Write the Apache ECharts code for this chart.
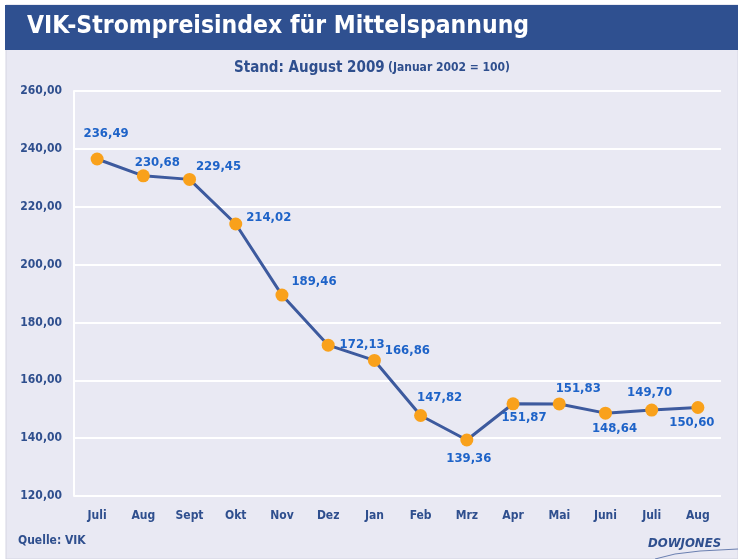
<!DOCTYPE html>
<html>
<head>
<meta charset="utf-8">
<script src="https://cdn.jsdelivr.net/npm/echarts@6/dist/echarts.min.js"></script>
<style>
  html, body { margin: 0; padding: 0; background: #fff; }
  #chart { width: 738px; height: 559px; }
</style>
</head>
<body>
<div id="chart"></div>
<script>
const months = ['Juli', 'Aug', 'Sept', 'Okt', 'Nov', 'Dez', 'Jan', 'Feb', 'Mrz', 'Apr', 'Mai', 'Juni', 'Juli', 'Aug'];
const values = [236.49, 230.68, 229.45, 214.02, 189.46, 172.13, 166.86, 147.82, 139.36, 151.87, 151.83, 148.64, 149.70, 150.60];
// where each value label sits relative to its point
const labelOffsets = [[9, -25], [14, -13], [29, -13], [33, -6], [32, -13], [34, -1], [33, -10],
  [19, -18], [2, 19], [11, 14], [19, -15], [9, 15], [-2, -17], [-6, 15]];

const font = '"DejaVu Sans Condensed", "Liberation Sans Narrow", sans-serif';
const fmt = v => v.toFixed(2).replace('.', ',');

const chart = echarts.init(document.getElementById('chart'));

chart.setOption({
  animation: false,
  graphic: [
    { type: 'rect', shape: { x: 6, y: 5, width: 732, height: 554 }, style: { fill: '#e9e9f3', stroke: '#d5d5e2', lineWidth: 1 }, z: -10 },
    { type: 'rect', shape: { x: 5, y: 5, width: 733, height: 45 }, style: { fill: '#2f5090' }, z: -9 },
    { type: 'text', x: 27, y: 27, style: { text: 'VIK-Strompreisindex für Mittelspannung', fill: '#fff', font: 'bold 24.5px ' + font, textVerticalAlign: 'middle' } },
    { type: 'text', x: 372, y: 68, style: {
      text: '{a|Stand: August 2009} {b|(Januar 2002 = 100)}', textAlign: 'center', textVerticalAlign: 'middle',
      rich: {
        a: { fill: '#2f4f8e', fontWeight: 'bold', fontSize: 15, fontFamily: font },
        b: { fill: '#2f4f8e', fontWeight: 'bold', fontSize: 12, fontFamily: font }
      }
    } },
    { type: 'text', x: 18, y: 541, style: { text: 'Quelle: VIK', fill: '#2f4f8e', font: 'bold 12px ' + font, textVerticalAlign: 'middle' } },
    { type: 'text', x: 648, y: 544, style: { text: 'DOWJONES', fill: '#2f4f8e', font: 'italic bold 13px ' + font, textVerticalAlign: 'middle' } },
    { type: 'polyline', shape: { points: [[655, 559], [675, 554], [700, 551], [738, 549]] }, style: { stroke: '#6a7fb0', lineWidth: 1, fill: null } }
  ],
  grid: { left: 74, right: 17, top: 91, bottom: 63 },
  xAxis: {
    type: 'category',
    data: months,
    axisLine: { show: false },
    axisTick: { show: false },
    axisLabel: { color: '#2f4f8e', fontWeight: 'bold', fontSize: 12, fontFamily: font, margin: 14 }
  },
  yAxis: {
    type: 'value',
    min: 120,
    max: 260,
    interval: 20,
    axisLine: { show: true, lineStyle: { color: '#ffffff', width: 2 } },
    axisTick: { show: false },
    splitLine: { lineStyle: { color: '#ffffff', width: 2 } },
    axisLabel: { color: '#2f4f8e', fontWeight: 'bold', fontSize: 12, fontFamily: font, margin: 12, formatter: fmt }
  },
  series: [{
    type: 'line',
    data: values.map((v, i) => ({
      value: v,
      label: { offset: labelOffsets[i] }
    })),
    symbol: 'circle',
    symbolSize: 13,
    itemStyle: { color: '#f9a11b' },
    lineStyle: { color: '#3d5a9e', width: 3 },
    label: {
      show: true,
      position: 'inside',
      color: '#1e63c8',
      fontWeight: 'bold',
      fontSize: 13,
      fontFamily: font,
      formatter: p => fmt(p.value)
    }
  }]
});
</script>
</body>
</html>
